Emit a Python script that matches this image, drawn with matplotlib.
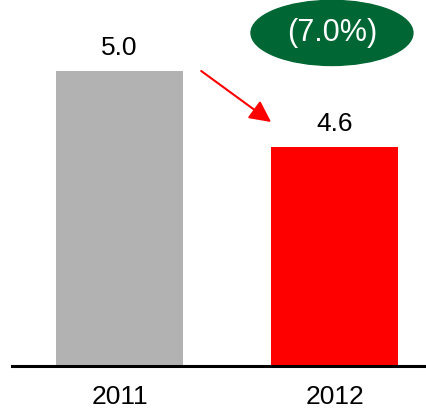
import matplotlib.pyplot as plt
from matplotlib.patches import Ellipse

years = ["2011", "2012"]
values = [5.0, 4.6]
bar_colors = ["#b2b2b2", "#ff0000"]
change_label = "(7.0%)"

plt.rcParams["font.family"] = ["Liberation Sans", "DejaVu Sans"]

fig = plt.figure(figsize=(4.27, 4.09), dpi=100)
ax = fig.add_axes([12 / 427, 43 / 409, 415 / 427, 366 / 409])

x = list(range(len(years)))
ax.bar(x, values, width=0.59, color=bar_colors)
ax.set_xlim(-0.5, 1.43)
ax.set_ylim(3.45, 5.373)

for xi, v in zip(x, values):
    ax.annotate(f"{v:.1f}", (xi, v), xytext=(0, 8), textcoords="offset points",
                ha="center", va="bottom", fontsize=19)

for s in ["top", "left", "right"]:
    ax.spines[s].set_visible(False)
ax.spines["bottom"].set_linewidth(2.2)
ax.set_yticks([])
ax.set_xticks(x)
ax.set_xticklabels(years, fontsize=19)
ax.tick_params(axis="x", length=0, pad=14)

# arrow from first bar to second
ax.annotate("", xy=(0.705, 4.732), xytext=(0.38, values[0]),
            arrowprops=dict(arrowstyle="-|>,head_length=1.3,head_width=0.65",
                            color="#ff0000", lw=1.5, shrinkA=0, shrinkB=0))

oval = Ellipse((0.988, 5.20), 0.753, 0.342, color="#006633", clip_on=False)
ax.add_patch(oval)
ax.text(0.988, 5.20, change_label, ha="center", va="center", color="white", fontsize=22)

fig.savefig("out.png", dpi=100)
